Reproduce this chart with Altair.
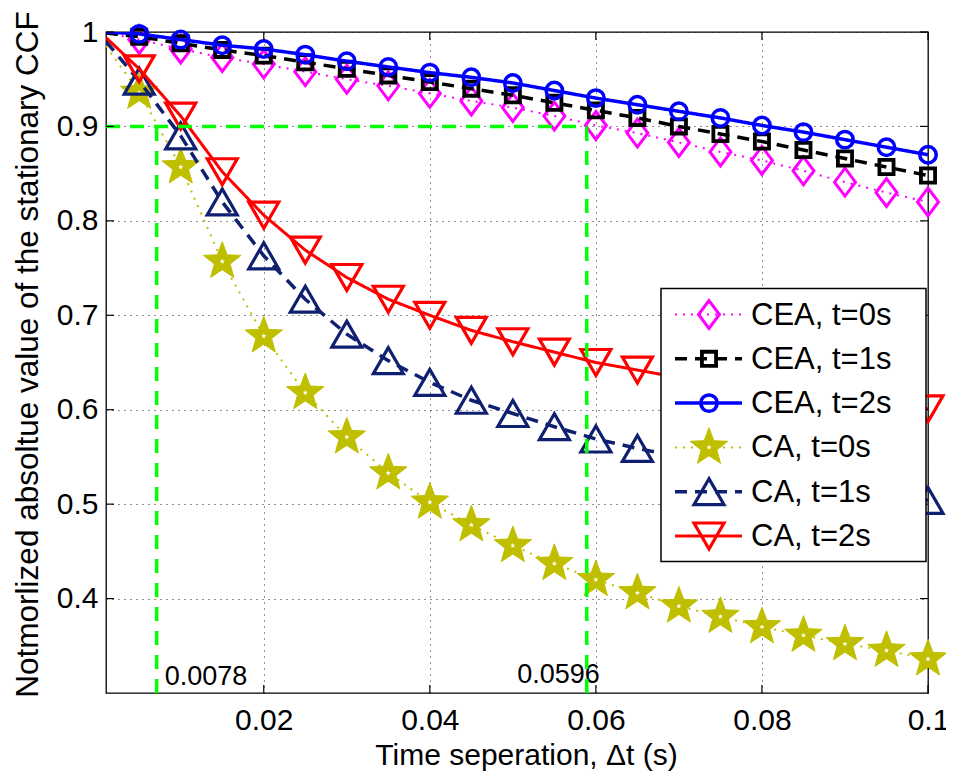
import math
import altair as alt
import pandas as pd

# ---------------- data ----------------
dt = [0.001, 0.005, 0.010, 0.015, 0.020, 0.025, 0.030, 0.035, 0.040, 0.045, 0.050,
      0.055, 0.060, 0.065, 0.070, 0.075, 0.080, 0.085, 0.090, 0.095, 0.100]

cea_t0 = [0.999, 0.992, 0.982, 0.973, 0.966, 0.958, 0.950, 0.943, 0.935, 0.927, 0.920,
          0.911, 0.901, 0.893, 0.883, 0.873, 0.864, 0.853, 0.841, 0.830, 0.820]
cea_t1 = [0.999, 0.995, 0.988, 0.981, 0.975, 0.968, 0.961, 0.954, 0.947, 0.940, 0.933,
          0.925, 0.917, 0.909, 0.900, 0.892, 0.884, 0.875, 0.866, 0.857, 0.848]
cea_t2 = [1.000, 0.998, 0.992, 0.986, 0.982, 0.976, 0.969, 0.963, 0.957, 0.952, 0.946,
          0.938, 0.930, 0.923, 0.916, 0.909, 0.901, 0.894, 0.886, 0.878, 0.870]
ca_t0 = [0.985, 0.936, 0.857, 0.757, 0.678, 0.618, 0.571, 0.533, 0.502, 0.478, 0.456,
         0.437, 0.420, 0.406, 0.392, 0.381, 0.370, 0.361, 0.352, 0.345, 0.336]
ca_t1 = [0.990, 0.948, 0.890, 0.820, 0.763, 0.717, 0.680, 0.652, 0.629, 0.610, 0.596,
         0.582, 0.569, 0.559, 0.550, 0.541, 0.533, 0.525, 0.518, 0.511, 0.504]
ca_t2 = [0.994, 0.961, 0.911, 0.852, 0.806, 0.769, 0.740, 0.717, 0.700, 0.684, 0.672,
         0.661, 0.650, 0.642, 0.634, 0.627, 0.621, 0.615, 0.610, 0.605, 0.601]

series_names = ["CEA, t=0s", "CEA, t=1s", "CEA, t=2s", "CA, t=0s", "CA, t=1s", "CA, t=2s"]
series_values = [cea_t0, cea_t1, cea_t2, ca_t0, ca_t1, ca_t2]

x_ticks = [0.02, 0.04, 0.06, 0.08, 0.1]
y_ticks = [0.4, 0.5, 0.6, 0.7, 0.8, 0.9, 1.0]

guide_x = [0.0071, 0.0589]      # green dashed verticals
guide_y = 0.9                   # green dashed horizontal
guide_labels = ["0.0078", "0.0596"]

# ---------------- styles ----------------
W, H = 822, 661
FONT = "Liberation Sans"


def star_path(inner=0.42):
    pts = []
    for k in range(10):
        r = 1.0 if k % 2 == 0 else inner
        a = -math.pi / 2 + k * math.pi / 5
        pts.append(f"{r * math.cos(a):.3f},{r * math.sin(a):.3f}")
    return "M" + "L".join(pts) + "Z"


STAR = star_path()
DIAMOND = "M0,-1L0.75,0L0,1L-0.75,0Z"

styles = [
    dict(color="#FF00FF", lw=2, dash=[2, 6], shape=DIAMOND, size=780, msw=3, filled=False),
    dict(color="#000000", lw=3.5, dash=[12, 8], shape="square", size=200, msw=3.8, filled=False),
    dict(color="#0000FF", lw=3.5, dash=[1, 0], shape="circle", size=270, msw=3.5, filled=False),
    dict(color="#BFBF00", lw=2, dash=[2, 6], shape=STAR, size=1550, msw=1, filled=True),
    dict(color="#102070", lw=3.5, dash=[12, 8], shape="triangle-up", size=900, msw=3.2, filled=False),
    dict(color="#FF0000", lw=3, dash=[1, 0], shape="triangle-down", size=900, msw=3.2, filled=False),
]

xs = alt.Scale(domain=[0.001, 0.1], nice=False, zero=False)
ys = alt.Scale(domain=[0.3, 1.0], nice=False, zero=False)

x_axis = alt.Axis(
    title="Time seperation, Δt (s)", values=x_ticks, format="~g", grid=True,
    ticks=False, domain=False, labelFlush=False, labelOverlap=False,
    labelFont=FONT, labelFontSize=30, labelColor="black", labelPadding=12,
    titleFont=FONT, titleFontSize=30, titleFontWeight="normal", titleColor="black",
    titleX=420, titleY=71, titleAlign="center", titleBaseline="alphabetic",
    gridColor="#222222", gridDash=[1, 5], gridWidth=1, gridOpacity=1,
)
y_axis = alt.Axis(
    title="Notmorlized absoltue value of the stationary CCF", values=y_ticks, format="~g",
    grid=True, ticks=False, domain=False, labelFlush=False, labelOverlap=False,
    labelFont=FONT, labelFontSize=30, labelColor="black", labelPadding=8,
    titleFont=FONT, titleFontSize=31.5, titleFontWeight="normal", titleColor="black",
    titleX=-69, titleY=322, titleAlign="center", titleBaseline="alphabetic", titleAngle=270,
    gridColor="#222222", gridDash=[1, 5], gridWidth=1, gridOpacity=1,
)


def X(field):
    return alt.X(field, type="quantitative", scale=xs, axis=x_axis)


def Y(field):
    return alt.Y(field, type="quantitative", scale=ys, axis=y_axis)


def marker(data, st, **enc):
    if st["filled"]:
        m = alt.Chart(data).mark_point(shape=st["shape"], size=st["size"], filled=True,
                                       fill=st["color"], stroke=st["color"],
                                       strokeWidth=st["msw"], opacity=1)
    else:
        m = alt.Chart(data).mark_point(shape=st["shape"], size=st["size"], filled=False,
                                       stroke=st["color"], strokeWidth=st["msw"], opacity=1)
    out = [m.encode(**enc)]
    if st["shape"] == STAR:
        out.append(alt.Chart(data).mark_point(shape=STAR, size=30, filled=True, fill="white",
                                              strokeWidth=0, opacity=1).encode(**enc))
    return out


layers = []

# series: lines and markers
for name, vals, st in zip(series_names, series_values, styles):
    df = pd.DataFrame({"dt": dt, "v": vals})
    layers.append(
        alt.Chart(df).mark_line(color=st["color"], strokeWidth=st["lw"],
                                strokeDash=st["dash"], clip=True)
        .encode(x=X("dt"), y=Y("v"))
    )
    layers.extend(marker(df.iloc[1:], st, x=X("dt"), y=Y("v")))

# annotation texts
txt_df = pd.DataFrame({"gx": guide_x, "lab": guide_labels})
layers.append(
    alt.Chart(txt_df.iloc[[0]]).mark_text(align="left", baseline="alphabetic", dx=8,
                                          font=FONT, fontSize=27, color="black")
    .encode(x=X("gx"), y=alt.value(653), text="lab:N")
)
layers.append(
    alt.Chart(txt_df.iloc[[1]]).mark_text(align="right", baseline="alphabetic", dx=13,
                                          font=FONT, fontSize=27, color="black")
    .encode(x=X("gx"), y=alt.value(651), text="lab:N")
)

# green guide lines
gv = pd.DataFrame({"gx": guide_x, "y0": [0.3, 0.3], "y1": [guide_y, guide_y]})
layers.append(
    alt.Chart(gv).mark_rule(color="#00FF00", strokeWidth=3.5, strokeDash=[14, 10])
    .encode(x=X("gx"), y=Y("y0"), y2="y1:Q")
)
gh = pd.DataFrame({"x0": [0.001], "x1": [guide_x[1]], "gy": [guide_y]})
layers.append(
    alt.Chart(gh).mark_rule(color="#00FF00", strokeWidth=3.5, strokeDash=[14, 10])
    .encode(x=X("x0"), x2="x1:Q", y=Y("gy"))
)

# inward tick marks (MATLAB style)
xt = pd.DataFrame({"t": x_ticks})
yt = pd.DataFrame({"t": y_ticks})
layers.append(alt.Chart(xt).mark_rule(color="black", strokeWidth=1.2)
              .encode(x=X("t"), y=alt.value(H), y2=alt.value(H - 8)))
layers.append(alt.Chart(xt).mark_rule(color="black", strokeWidth=1.2)
              .encode(x=X("t"), y=alt.value(0), y2=alt.value(8)))
layers.append(alt.Chart(yt).mark_rule(color="black", strokeWidth=1.2)
              .encode(y=Y("t"), x=alt.value(0), x2=alt.value(8)))
layers.append(alt.Chart(yt).mark_rule(color="black", strokeWidth=1.2)
              .encode(y=Y("t"), x=alt.value(W - 8), x2=alt.value(W)))

# legend box
one = pd.DataFrame({"a": [0]})
LX0, LX1, LY0, LY1 = 555, 820, 256.5, 529.5
layers.append(
    alt.Chart(one).mark_rect(fill="white", stroke="black", strokeWidth=1.5)
    .encode(x=alt.value(LX0), x2=alt.value(LX1), y=alt.value(LY0), y2=alt.value(LY1))
)
row0, step = 282.5, 44.3
for i, (name, st) in enumerate(zip(series_names, styles)):
    yc = row0 + i * step
    layers.append(
        alt.Chart(one).mark_rule(color=st["color"], strokeWidth=st["lw"], strokeDash=st["dash"])
        .encode(x=alt.value(569), x2=alt.value(636), y=alt.value(yc))
    )
    layers.extend(marker(one, st, x=alt.value(603), y=alt.value(yc)))
    layers.append(
        alt.Chart(one).mark_text(align="left", baseline="middle", font=FONT, fontSize=31,
                                 color="black")
        .encode(x=alt.value(645), y=alt.value(yc + 1), text=alt.value(name))
    )

chart = (
    alt.layer(*layers)
    .properties(width=W, height=H, autosize=alt.AutoSizeParams(type="none"),
                padding={"left": 98, "top": 24, "right": 18, "bottom": 78},
                background="white")
    .configure_view(stroke="black", strokeWidth=1.3)
)

chart.save("out.html", embed_options={"renderer": "svg", "actions": False})
